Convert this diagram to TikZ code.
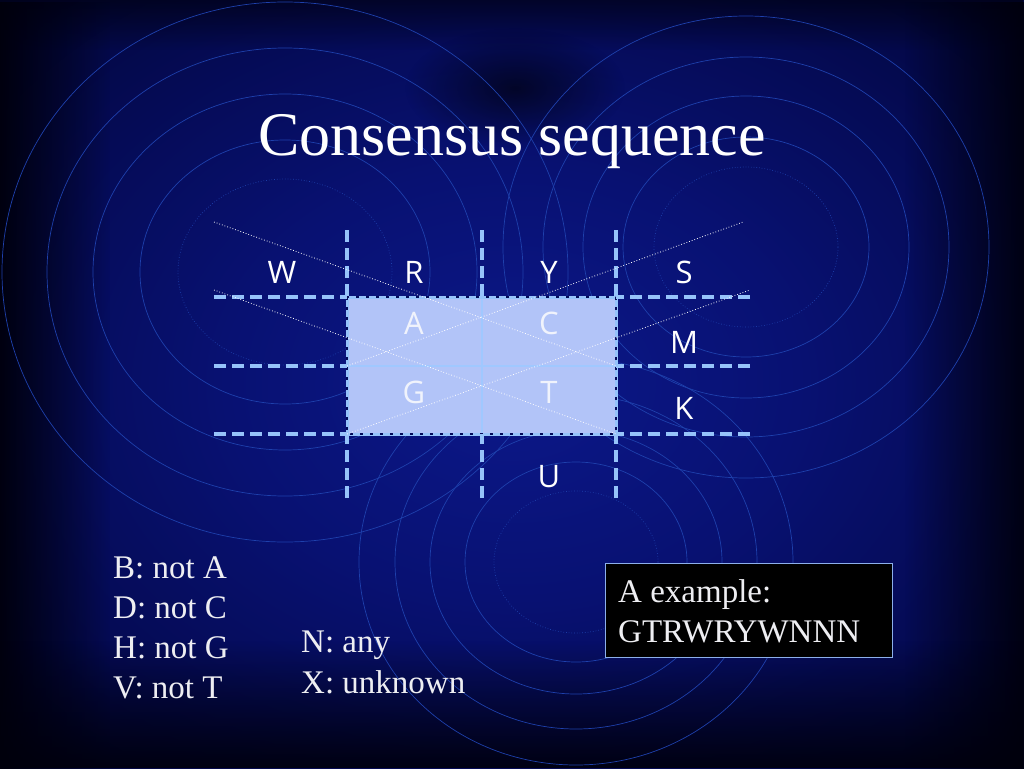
\documentclass[tikz,border=0pt]{standalone}
\usepackage{fontspec}
\setmainfont{Liberation Serif}
\newfontfamily\letterfont{Open Sans}
\usetikzlibrary{fadings}
\tikzfading[name=blobfade, inner color=transparent!0, outer color=transparent!100]
\tikzfading[name=fadeL, left color=transparent!0, right color=transparent!100]
\tikzfading[name=fadeR, left color=transparent!100, right color=transparent!0]
\tikzfading[name=fadeB, bottom color=transparent!0, top color=transparent!100]
\tikzfading[name=fadeT, top color=transparent!0, bottom color=transparent!100]
\definecolor{bgc}{RGB}{12,24,138}
\definecolor{bgm}{RGB}{8,17,114}
\definecolor{bge}{RGB}{5,11,86}
\definecolor{bgf}{RGB}{2,6,55}
\definecolor{ringc}{RGB}{30,64,172}
\definecolor{gridc}{RGB}{150,195,250}
\definecolor{boxfill}{RGB}{178,196,248}
\definecolor{innerc}{RGB}{160,200,255}
\definecolor{navyc}{RGB}{5,12,90}
\definecolor{txtc}{RGB}{238,238,242}
\definecolor{lettin}{RGB}{240,243,252}
\definecolor{exborder}{RGB}{140,175,235}
\definecolor{edgec}{RGB}{0,0,12}
\pgfdeclareradialshading{slidebg}{\pgfpoint{0bp}{0bp}}{color(0bp)=(bgc); color(14bp)=(bgm); color(25bp)=(bge); color(36bp)=(bgf); color(50bp)=(bgf)}
\tikzset{
  ring/.style={draw=ringc, line width=0.7pt},
  ringin/.style={ring, dotted},
  gridline/.style={draw=gridc, line width=3.6pt, dash pattern=on 12pt off 6pt},
  innerline/.style={draw=innerc, line width=2.5pt},
  diag/.style={draw=white, line width=0.8pt, dotted},
  letter/.style={font=\letterfont\fontsize{31}{36}\selectfont, text=white, inner sep=0pt},
  letterin/.style={letter, text=lettin},
  body/.style={font=\fontsize{33}{40}\selectfont, text=txtc, inner sep=0pt, anchor=base west},
  exbox/.style={draw=exborder, line width=1.3pt, fill=black, inner sep=0pt, anchor=north west, minimum width=287pt, minimum height=94pt}
}
\begin{document}
\begin{tikzpicture}[x=1pt,y=-1pt]
\useasboundingbox (0,0) rectangle (1024,768);
\shade[shading=slidebg] (0,0) rectangle (1024,768);
\fill[edgec, path fading=fadeL, opacity=0.95] (0,0) rectangle (110,768);
\fill[edgec, path fading=fadeR, opacity=0.9] (904,0) rectangle (1024,768);
\fill[edgec, path fading=fadeB, opacity=0.9] (0,640) rectangle (1024,768);
\fill[edgec, path fading=fadeT, opacity=0.6] (0,0) rectangle (1024,50);
\fill[black, path fading=blobfade, opacity=0.6] (515,88) ellipse [x radius=110pt, y radius=60pt];
% background rings
\foreach \rx/\ry in {145/132,192/178,238/224,283/270} \draw[ring] (285,272) ellipse [x radius=\rx pt, y radius=\ry pt];
\draw[ringin] (285,272) ellipse [x radius=107pt, y radius=93pt];
\foreach \rx/\ry in {123/110,163/151,203/190,243/231} \draw[ring] (746,247) ellipse [x radius=\rx pt, y radius=\ry pt];
\draw[ringin] (746,247) ellipse [x radius=92pt, y radius=80pt];
\foreach \rx/\ry in {111/100,146/132,181/167,217/203} \draw[ring] (576,562) ellipse [x radius=\rx pt, y radius=\ry pt];
\draw[ringin] (576,562) ellipse [x radius=82pt, y radius=71pt];
% title
\node[font=\fontsize{62}{70}\selectfont, text=white, inner sep=0pt, anchor=base] (title) at (512,155) {Consensus sequence};
% box
\fill[boxfill] (347,297) rectangle (616,434);
\draw[innerline] (482,297) -- (482,434);
\draw[innerline] (347,366) -- (616,366);
\draw[draw=gridc, line width=3pt] (347,297) rectangle (616,434);
\draw[draw=navyc, line width=2pt, dash pattern=on 3pt off 7pt] (347,297) rectangle (616,434);
% grid lines
\foreach \y in {297,366,434} {
  \draw[gridline] (214,\y) -- (347,\y);
  \draw[gridline] (750,\y) -- (616,\y);
}
\foreach \x in {347,482,616} {
  \draw[gridline] (\x,230) -- (\x,297);
  \draw[gridline] (\x,498) -- (\x,434);
}
% diagonals
\coordinate (d1a) at (214,222); \coordinate (d1b) at (616,366);
\coordinate (d2a) at (214,290); \coordinate (d2b) at (616,434);
\coordinate (u1a) at (347,434); \coordinate (u1b) at (750,290);
\coordinate (u2a) at (347,366); \coordinate (u2b) at (743,222);
\draw[diag] (d1a) -- (d1b);
\draw[diag] (d2a) -- (d2b);
\draw[diag] (u1a) -- (u1b);
\draw[diag] (u2a) -- (u2b);
% letters
\node[letter] (W) at (282,272) {W};
\node[letter] (R) at (414,272) {R};
\node[letter] (Y) at (549,272) {Y};
\node[letter] (S) at (684,272) {S};
\node[letterin] (A) at (414,323) {A};
\node[letterin] (C) at (549,323) {C};
\node[letter] (M) at (684,342) {M};
\node[letterin] (G) at (414,392) {G};
\node[letterin] (T) at (549,392) {T};
\node[letter] (K) at (684,408) {K};
\node[letter] (U) at (549,477) {U};
% bottom texts
\node[body] (bl) at (113,578) {B: not A};
\node[body] (dl) at (113,618) {D: not C};
\node[body] (hl) at (113,658) {H: not G};
\node[body] (vl) at (113,698) {V: not T};
\node[body] (nl) at (301,652) {N: any};
\node[body] (xl) at (301,693) {X: unknown};
\node[exbox] (ex) at (605,563) {};
\node[body] (ex1) at (618,602) {A example:};
\node[body] (ex2) at (618,642) {GTRWRYWNNN};
\end{tikzpicture}
\end{document}
